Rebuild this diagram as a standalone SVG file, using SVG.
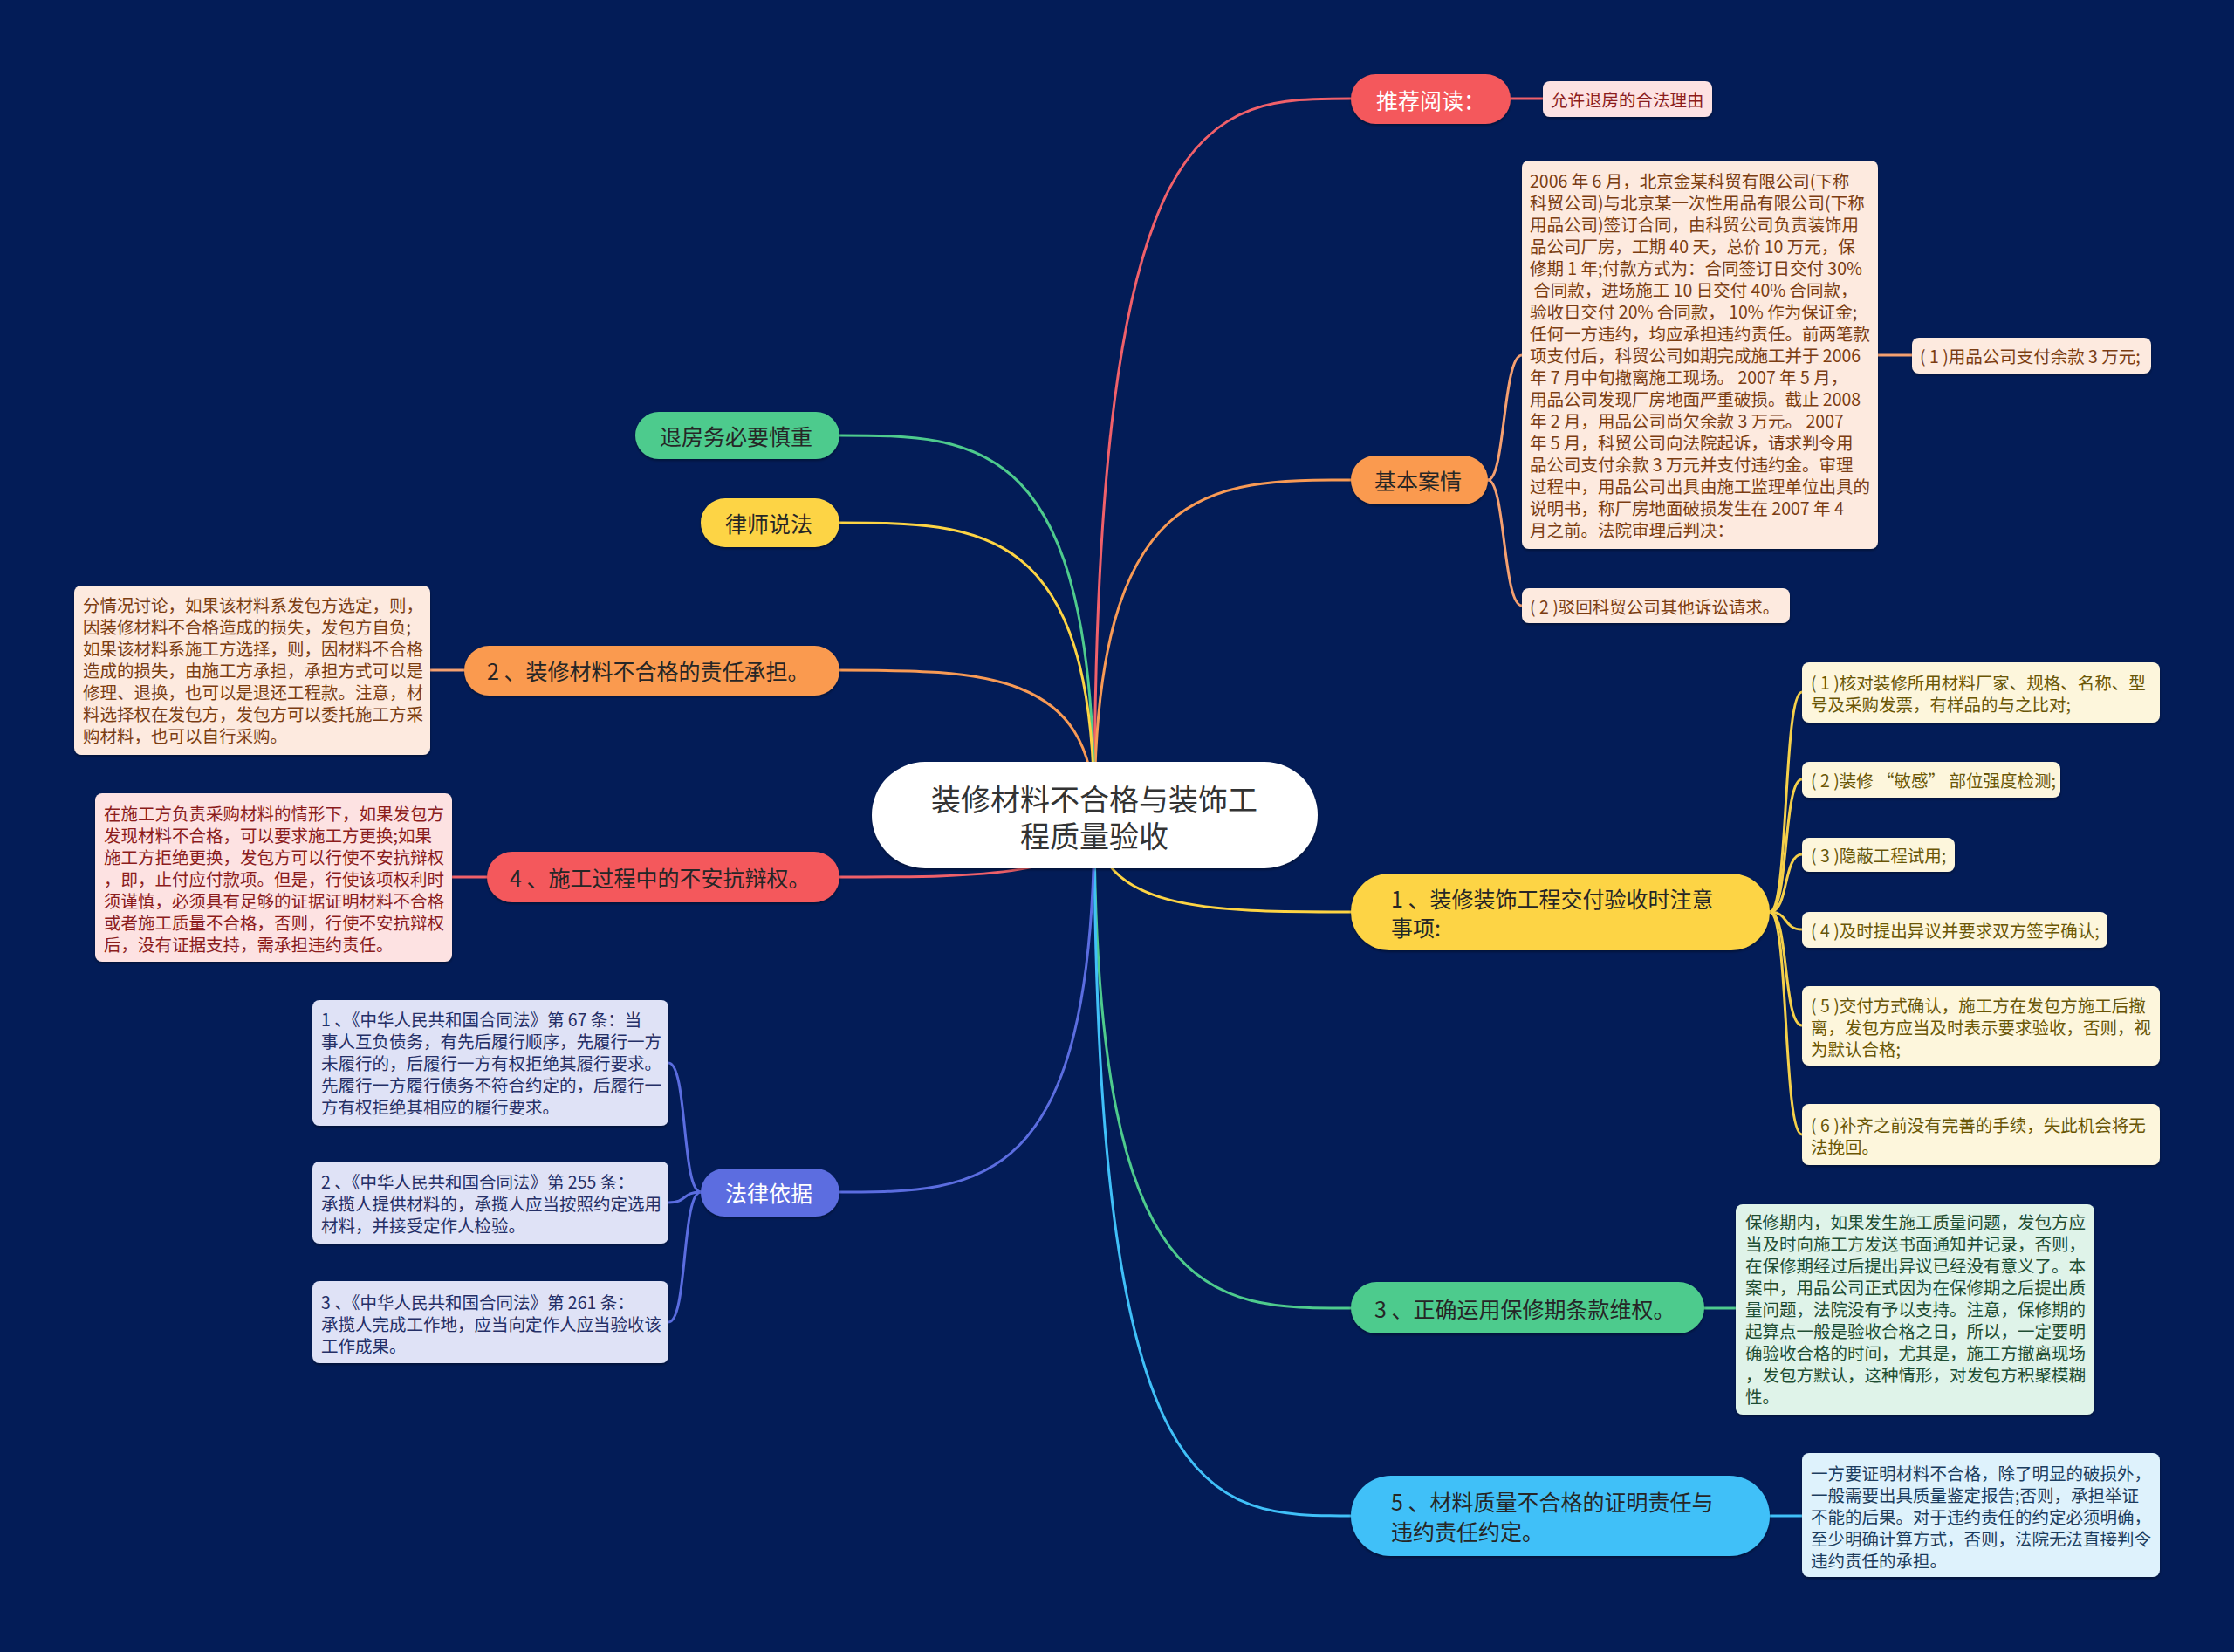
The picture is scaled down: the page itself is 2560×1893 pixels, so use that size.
<svg xmlns="http://www.w3.org/2000/svg" width="2560" height="1893" viewBox="0 0 2560 1893">
<defs>
<style>
text { font-family: "Noto Sans CJK SC", "Noto Sans", sans-serif; dominant-baseline: central; white-space: pre; }
.main { font-size: 25px; fill: #262626; }
.leaf { font-size: 19.5px; }
.c { fill: none; stroke-width: 3; stroke-linecap: round; }
.peach rect { fill: #fdeadf; } .peach text { fill: #7b3d12; }
.pink rect { fill: #fde2e2; } .pink text { fill: #8b1c1c; }
.yel rect { fill: #fdf6dc; } .yel text { fill: #6a5606; }
.grn rect { fill: #dff3e9; } .grn text { fill: #1e4d33; }
.blu rect { fill: #def2fc; } .blu text { fill: #1c3d5e; }
.lav rect { fill: #dfe2f6; } .lav text { fill: #252f66; }
</style>
<filter id="sh" x="-10%" y="-10%" width="120%" height="130%">
<feDropShadow dx="0" dy="2" stdDeviation="1.5" flood-color="#000" flood-opacity="0.35"/>
</filter>
</defs>
<rect width="2560" height="1893" fill="#031c57"/>

<g id="connectors">
<path class="c" stroke="#f0606a" d="M1254 934 C1254 113 1386 113 1548 113"/>
<path class="c" stroke="#f89a55" d="M1254 934 C1254 550 1386 550 1548 550"/>
<path class="c" stroke="#fdd444" d="M1254 934 C1254 1045 1386 1045 1548 1045"/>
<path class="c" stroke="#4ecb8d" d="M1254 934 C1254 1499 1386 1499 1548 1499"/>
<path class="c" stroke="#40c0f8" d="M1254 934 C1254 1737 1386 1737 1548 1737"/>
<path class="c" stroke="#4ecb8d" d="M1254 934 C1254 499 1123 499 962 499"/>
<path class="c" stroke="#fdd444" d="M1254 934 C1254 599 1123 599 962 599"/>
<path class="c" stroke="#f89a55" d="M1254 934 C1254 768 1123 768 962 768"/>
<path class="c" stroke="#f0606a" d="M1254 934 C1254 1005 1123 1005 962 1005"/>
<path class="c" stroke="#5b6de0" d="M1254 934 C1254 1366 1123 1366 962 1366"/>

<path class="c" stroke="#f0606a" d="M1731 113 L1768 113"/>
<path class="c" stroke="#f5a070" d="M1705 550 C1725 550 1722 407 1744 407"/>
<path class="c" stroke="#f5a070" d="M1705 550 C1725 550 1722 694 1744 694"/>
<path class="c" stroke="#f5a070" d="M2152 407 L2191 407"/>
<path class="c" stroke="#f5d04a" d="M2028 1045 C2050 1045 2043 793 2065 793"/>
<path class="c" stroke="#f5d04a" d="M2028 1045 C2050 1045 2043 893 2065 893"/>
<path class="c" stroke="#f5d04a" d="M2028 1045 C2050 1045 2043 979 2065 979"/>
<path class="c" stroke="#f5d04a" d="M2028 1045 C2050 1045 2043 1065 2065 1065"/>
<path class="c" stroke="#f5d04a" d="M2028 1045 C2050 1045 2043 1175 2065 1175"/>
<path class="c" stroke="#f5d04a" d="M2028 1045 C2050 1045 2043 1300 2065 1300"/>
<path class="c" stroke="#4ecb8d" d="M1953 1499 L1989 1499"/>
<path class="c" stroke="#40c0f8" d="M2028 1737 L2065 1737"/>
<path class="c" stroke="#f5a070" d="M532 768 L493 768"/>
<path class="c" stroke="#f0606a" d="M558 1005 L518 1005"/>
<path class="c" stroke="#5b6de0" d="M803 1366 C781 1366 788 1218 766 1218"/>
<path class="c" stroke="#5b6de0" d="M803 1366 C781 1366 788 1378 766 1378"/>
<path class="c" stroke="#5b6de0" d="M803 1366 C781 1366 788 1515 766 1515"/>
</g>

<g id="center">
<rect x="999" y="873" width="511" height="122" rx="61" fill="#ffffff" filter="url(#sh)"/>
<text x="1254" y="914" font-size="34" fill="#333" text-anchor="middle">装修材料不合格与装饰工</text>
<text x="1254" y="956" font-size="34" fill="#333" text-anchor="middle">程质量验收</text>
</g>

<g id="n-tuijian">
<rect x="1548" y="85" width="183" height="57" rx="28.5" fill="#f4585b" filter="url(#sh)"/>
<text class="main" x="1577" y="113.5" style="fill:#ffffff">推荐阅读：</text>
</g>
<g id="l-yunxu" class="pink">
<rect x="1768" y="93" width="194" height="41" rx="8" filter="url(#sh)"/>
<text class="leaf" x="1777" y="113.5">允许退房的合法理由</text>
</g>

<g id="n-jiben">
<rect x="1548" y="522" width="157" height="56" rx="28" fill="#fa9a50" filter="url(#sh)"/>
<text class="main" x="1575" y="550">基本案情</text>
</g>
<g id="l-anqing" class="peach">
<rect x="1744" y="184" width="408" height="445" rx="8" filter="url(#sh)"/>
<text class="leaf" x="1753" y="206">2006 年 6 月，北京金某科贸有限公司(下称</text>
<text class="leaf" x="1753" y="231">科贸公司)与北京某一次性用品有限公司(下称</text>
<text class="leaf" x="1753" y="256">用品公司)签订合同，由科贸公司负责装饰用</text>
<text class="leaf" x="1753" y="281">品公司厂房，工期 40 天，总价 10 万元，保</text>
<text class="leaf" x="1753" y="306">修期 1 年;付款方式为：合同签订日交付 30%</text>
<text class="leaf" x="1753" y="331"> 合同款，进场施工 10 日交付 40% 合同款，</text>
<text class="leaf" x="1753" y="356">验收日交付 20% 合同款， 10% 作为保证金;</text>
<text class="leaf" x="1753" y="381">任何一方违约，均应承担违约责任。前两笔款</text>
<text class="leaf" x="1753" y="406">项支付后，科贸公司如期完成施工并于 2006</text>
<text class="leaf" x="1753" y="431">年 7 月中旬撤离施工现场。 2007 年 5 月，</text>
<text class="leaf" x="1753" y="456">用品公司发现厂房地面严重破损。截止 2008</text>
<text class="leaf" x="1753" y="481">年 2 月，用品公司尚欠余款 3 万元。 2007</text>
<text class="leaf" x="1753" y="506">年 5 月，科贸公司向法院起诉，请求判令用</text>
<text class="leaf" x="1753" y="531">品公司支付余款 3 万元并支付违约金。审理</text>
<text class="leaf" x="1753" y="556">过程中，用品公司出具由施工监理单位出具的</text>
<text class="leaf" x="1753" y="581">说明书，称厂房地面破损发生在 2007 年 4</text>
<text class="leaf" x="1753" y="606">月之前。法院审理后判决：</text>
</g>
<g id="l-panjue1" class="peach">
<rect x="2191" y="387" width="274" height="41" rx="8" filter="url(#sh)"/>
<text class="leaf" x="2200" y="407.5">( 1 )用品公司支付余款 3 万元;</text>
</g>
<g id="l-panjue2" class="peach">
<rect x="1744" y="674" width="307" height="40" rx="8" filter="url(#sh)"/>
<text class="leaf" x="1753" y="694">( 2 )驳回科贸公司其他诉讼请求。</text>
</g>

<g id="n-yanshou">
<rect x="1548" y="1001" width="480" height="88" rx="44" fill="#fdd444" filter="url(#sh)"/>
<text class="main" x="1594" y="1029">1 、装修装饰工程交付验收时注意</text>
<text class="main" x="1594" y="1062">事项:</text>
</g>
<g id="l-y1" class="yel">
<rect x="2065" y="759" width="410" height="69" rx="8" filter="url(#sh)"/>
<text class="leaf" x="2075" y="781">( 1 )核对装修所用材料厂家、规格、名称、型</text>
<text class="leaf" x="2075" y="806">号及采购发票，有样品的与之比对;</text>
</g>
<g id="l-y2" class="yel">
<rect x="2065" y="873" width="296" height="41" rx="8" filter="url(#sh)"/>
<text class="leaf" x="2075" y="893.5">( 2 )装修 “敏感” 部位强度检测;</text>
</g>
<g id="l-y3" class="yel">
<rect x="2065" y="960" width="175" height="39" rx="8" filter="url(#sh)"/>
<text class="leaf" x="2075" y="979.5">( 3 )隐蔽工程试用;</text>
</g>
<g id="l-y4" class="yel">
<rect x="2065" y="1045" width="350" height="41" rx="8" filter="url(#sh)"/>
<text class="leaf" x="2075" y="1065.5">( 4 )及时提出异议并要求双方签字确认;</text>
</g>
<g id="l-y5" class="yel">
<rect x="2065" y="1130" width="410" height="91" rx="8" filter="url(#sh)"/>
<text class="leaf" x="2075" y="1151">( 5 )交付方式确认，施工方在发包方施工后撤</text>
<text class="leaf" x="2075" y="1176">离，发包方应当及时表示要求验收，否则，视</text>
<text class="leaf" x="2075" y="1201">为默认合格;</text>
</g>
<g id="l-y6" class="yel">
<rect x="2065" y="1265" width="410" height="70" rx="8" filter="url(#sh)"/>
<text class="leaf" x="2075" y="1288">( 6 )补齐之前没有完善的手续，失此机会将无</text>
<text class="leaf" x="2075" y="1313">法挽回。</text>
</g>

<g id="n-baoxiu">
<rect x="1548" y="1469" width="405" height="59" rx="29.5" fill="#4ecb8d" filter="url(#sh)"/>
<text class="main" x="1575" y="1499">3 、正确运用保修期条款维权。</text>
</g>
<g id="l-baoxiu" class="grn">
<rect x="1989" y="1380" width="411" height="241" rx="8" filter="url(#sh)"/>
<text class="leaf" x="2000" y="1399">保修期内，如果发生施工质量问题，发包方应</text>
<text class="leaf" x="2000" y="1424">当及时向施工方发送书面通知并记录，否则，</text>
<text class="leaf" x="2000" y="1449">在保修期经过后提出异议已经没有意义了。本</text>
<text class="leaf" x="2000" y="1474">案中，用品公司正式因为在保修期之后提出质</text>
<text class="leaf" x="2000" y="1499">量问题，法院没有予以支持。注意，保修期的</text>
<text class="leaf" x="2000" y="1524">起算点一般是验收合格之日，所以，一定要明</text>
<text class="leaf" x="2000" y="1549">确验收合格的时间，尤其是，施工方撤离现场</text>
<text class="leaf" x="2000" y="1574">，发包方默认，这种情形，对发包方积聚模糊</text>
<text class="leaf" x="2000" y="1599">性。</text>
</g>

<g id="n-zhengming">
<rect x="1548" y="1691" width="480" height="92" rx="46" fill="#40c0f8" filter="url(#sh)"/>
<text class="main" x="1594" y="1720">5 、材料质量不合格的证明责任与</text>
<text class="main" x="1594" y="1754">违约责任约定。</text>
</g>
<g id="l-zhengming" class="blu">
<rect x="2065" y="1665" width="410" height="142" rx="8" filter="url(#sh)"/>
<text class="leaf" x="2075" y="1687">一方要证明材料不合格，除了明显的破损外，</text>
<text class="leaf" x="2075" y="1712">一般需要出具质量鉴定报告;否则，承担举证</text>
<text class="leaf" x="2075" y="1737">不能的后果。对于违约责任的约定必须明确，</text>
<text class="leaf" x="2075" y="1762">至少明确计算方式，否则，法院无法直接判令</text>
<text class="leaf" x="2075" y="1787">违约责任的承担。</text>
</g>

<g id="n-tuifang">
<rect x="728" y="472" width="234" height="54" rx="27" fill="#4ecb8d" filter="url(#sh)"/>
<text class="main" x="756" y="499">退房务必要慎重</text>
</g>
<g id="n-lvshi">
<rect x="803" y="571" width="159" height="56" rx="28" fill="#fdd444" filter="url(#sh)"/>
<text class="main" x="831" y="599">律师说法</text>
</g>

<g id="n-zeren">
<rect x="532" y="740" width="430" height="57" rx="28.5" fill="#fa9a50" filter="url(#sh)"/>
<text class="main" x="558" y="768">2 、装修材料不合格的责任承担。</text>
</g>
<g id="l-zeren" class="peach">
<rect x="85" y="671" width="408" height="194" rx="8" filter="url(#sh)"/>
<text class="leaf" x="95" y="692">分情况讨论，如果该材料系发包方选定，则，</text>
<text class="leaf" x="95" y="717">因装修材料不合格造成的损失，发包方自负;</text>
<text class="leaf" x="95" y="742">如果该材料系施工方选择，则，因材料不合格</text>
<text class="leaf" x="95" y="767">造成的损失，由施工方承担，承担方式可以是</text>
<text class="leaf" x="95" y="792">修理、退换，也可以是退还工程款。注意，材</text>
<text class="leaf" x="95" y="817">料选择权在发包方，发包方可以委托施工方采</text>
<text class="leaf" x="95" y="842">购材料，也可以自行采购。</text>
</g>

<g id="n-bua">
<rect x="558" y="976" width="404" height="58" rx="29" fill="#f4585b" filter="url(#sh)"/>
<text class="main" x="584" y="1005">4 、施工过程中的不安抗辩权。</text>
</g>
<g id="l-bua" class="pink">
<rect x="109" y="909" width="409" height="193" rx="8" filter="url(#sh)"/>
<text class="leaf" x="119" y="931">在施工方负责采购材料的情形下，如果发包方</text>
<text class="leaf" x="119" y="956">发现材料不合格，可以要求施工方更换;如果</text>
<text class="leaf" x="119" y="981">施工方拒绝更换，发包方可以行使不安抗辩权</text>
<text class="leaf" x="119" y="1006">，即，止付应付款项。但是，行使该项权利时</text>
<text class="leaf" x="119" y="1031">须谨慎，必须具有足够的证据证明材料不合格</text>
<text class="leaf" x="119" y="1056">或者施工质量不合格，否则，行使不安抗辩权</text>
<text class="leaf" x="119" y="1081">后，没有证据支持，需承担违约责任。</text>
</g>

<g id="n-falv">
<rect x="803" y="1339" width="159" height="55" rx="27.5" fill="#5b6de0" filter="url(#sh)"/>
<text class="main" x="831" y="1366" style="fill:#ffffff">法律依据</text>
</g>
<g id="l-falv1" class="lav">
<rect x="358" y="1146" width="408" height="144" rx="8" filter="url(#sh)"/>
<text class="leaf" x="368" y="1167">1 、《中华人民共和国合同法》第 67 条：当</text>
<text class="leaf" x="368" y="1192">事人互负债务，有先后履行顺序，先履行一方</text>
<text class="leaf" x="368" y="1217">未履行的，后履行一方有权拒绝其履行要求。</text>
<text class="leaf" x="368" y="1242">先履行一方履行债务不符合约定的，后履行一</text>
<text class="leaf" x="368" y="1267">方有权拒绝其相应的履行要求。</text>
</g>
<g id="l-falv2" class="lav">
<rect x="358" y="1331" width="408" height="94" rx="8" filter="url(#sh)"/>
<text class="leaf" x="368" y="1353">2 、《中华人民共和国合同法》第 255 条：</text>
<text class="leaf" x="368" y="1378">承揽人提供材料的，承揽人应当按照约定选用</text>
<text class="leaf" x="368" y="1403">材料，并接受定作人检验。</text>
</g>
<g id="l-falv3" class="lav">
<rect x="358" y="1468" width="408" height="94" rx="8" filter="url(#sh)"/>
<text class="leaf" x="368" y="1491">3 、《中华人民共和国合同法》第 261 条：</text>
<text class="leaf" x="368" y="1516">承揽人完成工作地，应当向定作人应当验收该</text>
<text class="leaf" x="368" y="1541">工作成果。</text>
</g>
</svg>
